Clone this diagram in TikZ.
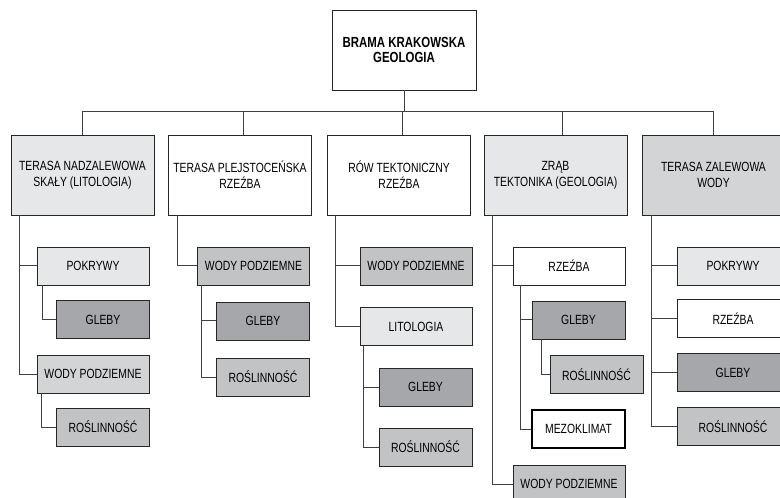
\documentclass[tikz,border=0pt]{standalone}
\usepackage{fontspec}
\setmainfont{Liberation Sans}[FakeStretch=0.78]

\newcommand{\pxu}{0.75pt}

\definecolor{lgray}{HTML}{E6E7E8}
\definecolor{ngray}{HTML}{D3D4D6}
\definecolor{mgray}{HTML}{C2C3C5}
\definecolor{dgray}{HTML}{A5A7AA}

\tikzset{
  box/.style = {draw = black!85, line width = 0.7pt, inner sep = 0pt, align = center,
                minimum height = 38*\pxu, font = \fontsize{10}{12}\selectfont},
  head/.style = {box, minimum width = 143*\pxu, minimum height = 80*\pxu},
  wide/.style = {box, minimum width = 112*\pxu},
  narrow/.style = {box, minimum width = 93*\pxu},
  link/.style = {draw = black!75, line width = 0.75pt}
}

\begin{document}
\begin{tikzpicture}[x = \pxu, y = -\pxu]

\useasboundingbox (0,0) rectangle (780,498);
\clip (0,0) rectangle (780,498);

\node [box, minimum width = 144*\pxu, minimum height = 80*\pxu, font = \fontsize{11}{11.5}\selectfont\bfseries] (v0) at (404,50) {BRAMA KRAKOWSKA\\GEOLOGIA};

\node [head, fill = lgray] (v1) at (82.5,175) {TERASA NADZALEWOWA\\SKAŁY (LITOLOGIA)};
\node [head] (v2) at (240,175) {TERASA PLEJSTOCEŃSKA\\RZEŹBA};
\node [head] (v3) at (399,175) {RÓW TEKTONICZNY\\RZEŹBA};
\node [head, fill = lgray] (v4) at (555.5,175) {ZRĄB\\TEKTONIKA (GEOLOGIA)};
\node [head, fill = ngray] (v5) at (713.5,175) {TERASA ZALEWOWA\\WODY};

\node [wide, fill = lgray] (v11) at (93,266) {POKRYWY};
\node [narrow, fill = dgray] (v12) at (103,319.5) {GLEBY};
\node [wide, fill = ngray] (v13) at (93,374) {WODY PODZIEMNE};
\node [narrow, fill = mgray] (v14) at (103,427) {ROŚLINNOŚĆ};

\node [wide, fill = mgray] (v21) at (253.5,266) {WODY PODZIEMNE};
\node [narrow, fill = dgray] (v22) at (263,321) {GLEBY};
\node [narrow, fill = mgray] (v23) at (263,377) {ROŚLINNOŚĆ};

\node [wide, fill = mgray] (v31) at (416,266) {WODY PODZIEMNE};
\node [wide, fill = lgray] (v32) at (416,326.5) {LITOLOGIA};
\node [narrow, fill = dgray] (v33) at (425.5,387) {GLEBY};
\node [narrow, fill = mgray] (v34) at (425.5,447) {ROŚLINNOŚĆ};

\node [wide] (v41) at (569,266) {RZEŹBA};
\node [narrow, fill = dgray] (v42) at (578.5,320) {GLEBY};
\node [narrow, fill = mgray] (v43) at (596.5,374.5) {ROŚLINNOŚĆ};
\node [narrow, draw = black, line width = 1.5pt] (v44) at (578.5,429) {MEZOKLIMAT};
\node [wide, fill = mgray] (v45) at (569,484) {WODY PODZIEMNE};

\node [wide, fill = lgray] (v51) at (733,266) {POKRYWY};
\node [wide] (v52) at (733,318.5) {RZEŹBA};
\node [wide, fill = dgray] (v53) at (733,372.5) {GLEBY};
\node [wide, fill = mgray] (v54) at (733,426.5) {ROŚLINNOŚĆ};

\coordinate (bar) at (0,112);

\draw [link] (v0.south) -- (v0.south |- bar);
\draw [link] (v1.north) -- (v1.north |- bar) -- (v5.north |- bar) -- (v5.north);
\draw [link] ([xshift = 3*\pxu]v2.north) -- ([xshift = 3*\pxu]v2.north |- bar);
\draw [link] ([xshift = 3*\pxu]v3.north) -- ([xshift = 3*\pxu]v3.north |- bar);
\draw [link] ([xshift = 7*\pxu]v4.north) -- ([xshift = 7*\pxu]v4.north |- bar);

\draw [link] ([xshift = 9*\pxu]v1.south west) |- (v11.west);
\draw [link] ([xshift = 9*\pxu]v1.south west) |- (v13.west);
\draw [link] ([xshift = 6*\pxu]v11.south west) |- (v12.west);
\draw [link] ([xshift = 5*\pxu]v13.south west) |- (v14.west);

\draw [link] ([xshift = 9*\pxu]v2.south west) |- (v21.west);
\draw [link] ([xshift = 4*\pxu]v21.south west) |- (v22.west);
\draw [link] ([xshift = 4*\pxu]v21.south west) |- (v23.west);

\draw [link] ([xshift = 8*\pxu]v3.south west) |- (v31.west);
\draw [link] ([xshift = 8*\pxu]v3.south west) |- (v32.west);
\draw [link] ([xshift = 4*\pxu]v32.south west) |- (v33.west);
\draw [link] ([xshift = 4*\pxu]v32.south west) |- (v34.west);

\draw [link] ([xshift = 9*\pxu]v4.south west) |- (v41.west);
\draw [link] ([xshift = 9*\pxu]v4.south west) |- (v45.west);
\draw [link] ([xshift = 8*\pxu]v41.south west) |- (v42.west);
\draw [link] ([xshift = 8*\pxu]v41.south west) |- (v44.west);
\draw [link] ([xshift = 10*\pxu]v42.south west) |- (v43.west);

\draw [link] ([xshift = 10*\pxu]v5.south west) |- (v51.west);
\draw [link] ([xshift = 10*\pxu]v5.south west) |- (v52.west);
\draw [link] ([xshift = 10*\pxu]v5.south west) |- (v53.west);
\draw [link] ([xshift = 10*\pxu]v5.south west) |- (v54.west);

\end{tikzpicture}
\end{document}
